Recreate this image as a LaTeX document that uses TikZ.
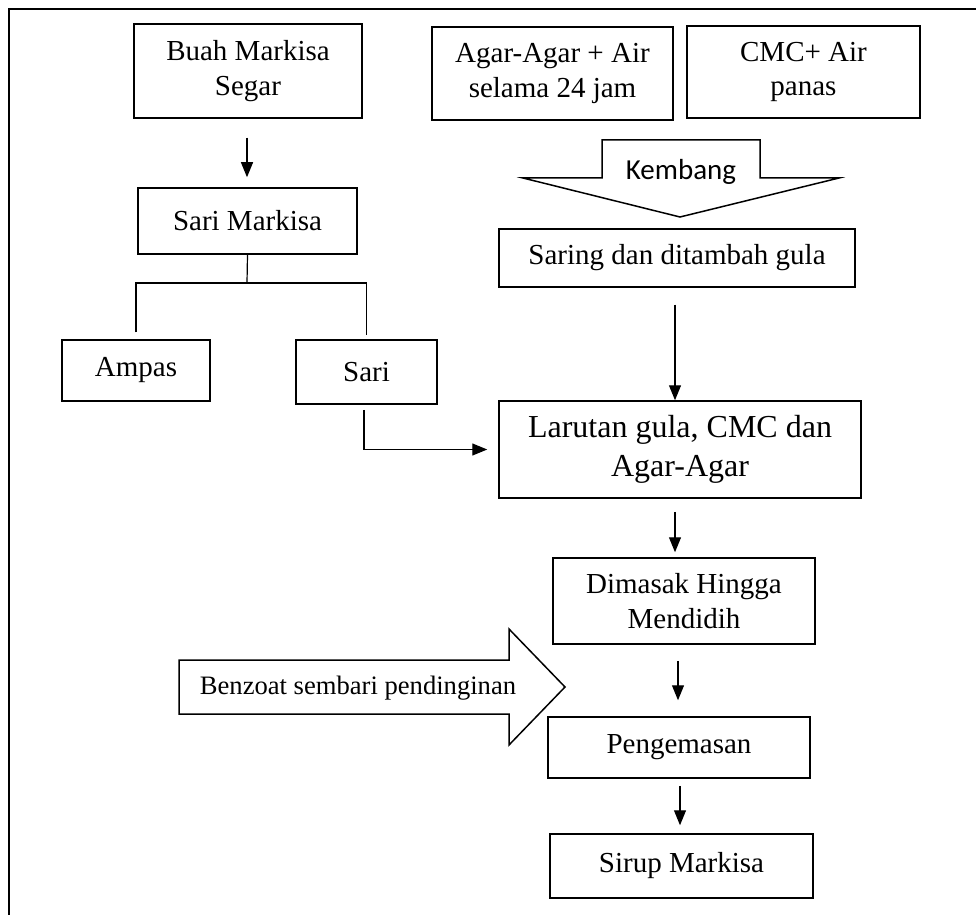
\documentclass[tikz,border=0pt]{standalone}
\usepackage{fontspec}
\setmainfont{Liberation Serif}
\newfontfamily\kembangfont{Carlito}
\usetikzlibrary{arrows.meta}

\begin{document}
\begin{tikzpicture}[x=0.5pt,y=-0.5pt]
  \useasboundingbox (0,0) rectangle (976,915);
  \tikzstyle{box}=[rectangle,draw,line width=0.75pt,align=center,inner sep=0pt,font=\fontsize{14.5}{17.4}\selectfont]
  \tikzstyle{flow}=[-{Triangle[length=7.5pt,width=6pt]},line width=0.6pt]
  \tikzstyle{block}=[draw,line width=0.75pt]

%% frame
  \draw[line width=1pt] (9,915) -- (9,9) -- (976,9);

%% raw materials
  \node[box,minimum width=114pt,minimum height=47pt]   (buah)  at (248,71)    {Buah Markisa\\Segar};
  \node[box,minimum width=120.5pt,minimum height=46.5pt] (agar) at (552.5,73.5) {Agar-Agar + Air\\selama 24 jam};
  \node[box,minimum width=116.5pt,minimum height=46pt] (cmc)   at (803.5,72)  {CMC+ Air\\panas};

%% fruit branch
  \node[box,minimum width=109.5pt,minimum height=33pt] (sarimarkisa) at (247.5,221) {Sari Markisa};
  \node[box,minimum width=74pt,minimum height=30.5pt]  (ampas) at (136,370.5)  {Ampas};
  \node[box,minimum width=70.5pt,minimum height=32pt]  (sari)  at (366.5,372)  {Sari};
  \coordinate (split) at (247,283);

%% thickener branch
  \draw[block] (602,178) -- (602,140) -- (760,140) -- (760,178) -- (839,178) -- (680,217) -- (523,178) -- cycle;
  \node[inner sep=0pt,font=\kembangfont\fontsize{14.5}{17.4}\selectfont] (kembang) at (681,172) {Kembang};
  \node[box,minimum width=178pt,minimum height=29pt]   (saring) at (677,258) {Saring dan ditambah gula};

%% main line
  \node[box,minimum width=181pt,minimum height=48.5pt,font=\fontsize{16}{19.2}\selectfont] (larutan) at (680,449.5) {Larutan gula, CMC dan\\Agar-Agar};
  \node[box,minimum width=131pt,minimum height=43pt]   (dimasak) at (684,601) {Dimasak Hingga\\Mendidih};
  \node[box,minimum width=131pt,minimum height=30.5pt] (kemas) at (679,747.5) {Pengemasan};
  \node[box,minimum width=131.5pt,minimum height=32pt] (sirup) at (681.5,866) {Sirup Markisa};

  \draw[block] (179,660) -- (509,660) -- (509,629) -- (565,687) -- (509,745) -- (509,714) -- (179,714) -- cycle;
  \node[inner sep=0pt,font=\fontsize{13.3}{16}\selectfont] (benzoat) at (358,688) {Benzoat sembari pendinginan};

%% connections
  \draw[flow,shorten <=9.5pt,shorten >=5pt] ([xshift=-0.5pt]buah.south) -- ([xshift=-0.25pt]sarimarkisa.north);
  \draw[line width=0.6pt] (sarimarkisa.south) -- (split);
  \draw[line width=0.6pt] ([yshift=3.5pt]ampas.north) |- (split) -| ([yshift=2pt]sari.north);
  \draw[flow,shorten <=2.5pt,shorten >=5.5pt] ([xshift=-1.25pt]sari.south) |- (larutan.west);
  \draw[flow,shorten <=8.5pt] ([xshift=-1pt]saring.south) -- ([xshift=-2.5pt]larutan.north);
  \draw[flow,shorten <=6.5pt,shorten >=2.5pt] ([xshift=-2.5pt]larutan.south) -- ([xshift=-4.5pt]dimasak.north);
  \draw[flow,shorten <=8pt,shorten >=8pt] ([xshift=-3pt]dimasak.south) -- ([xshift=-0.5pt]kemas.north);
  \draw[flow,shorten <=3.5pt,shorten >=4pt] ([xshift=0.5pt]kemas.south) -- ([xshift=-0.75pt]sirup.north);
\end{tikzpicture}
\end{document}
